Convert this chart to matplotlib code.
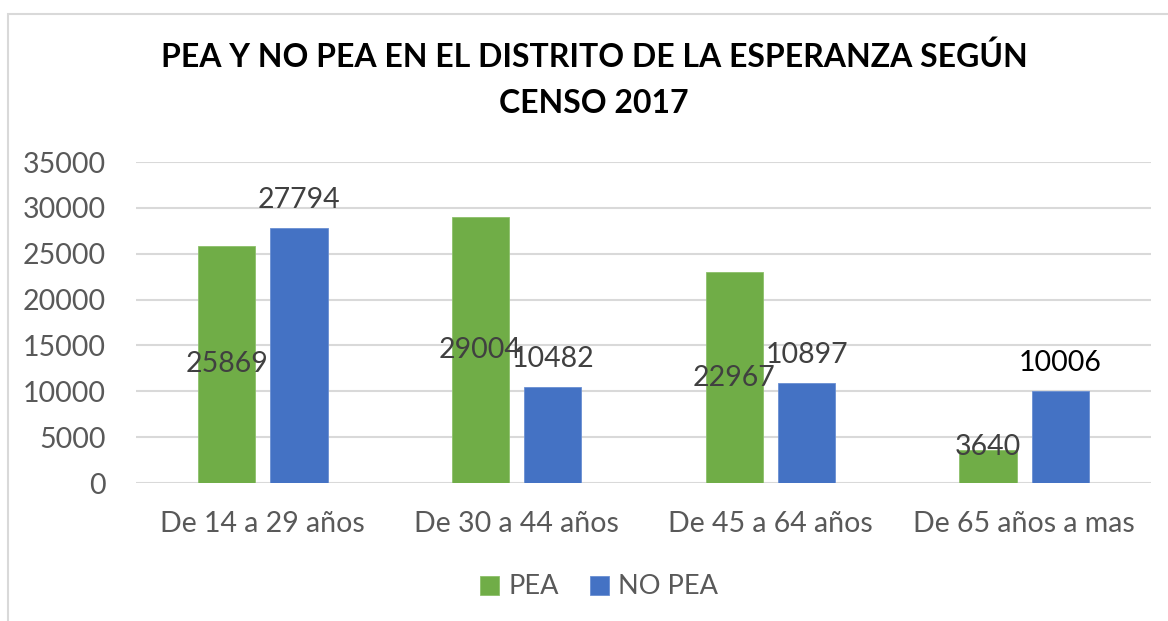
import matplotlib
matplotlib.use("Agg")
import matplotlib.pyplot as plt
from matplotlib.patches import Rectangle
import numpy as np

categories = ["De 14 a 29 años", "De 30 a 44 años", "De 45 a 64 años", "De 65 años a mas"]
pea = [25869, 29004, 22967, 3640]
no_pea = [27794, 10482, 10897, 10006]
series_names = ["PEA", "NO PEA"]
yticks = [0, 5000, 10000, 15000, 20000, 25000, 30000, 35000]
title = "PEA Y NO PEA EN EL DISTRITO DE LA ESPERANZA SEGÚN\nCENSO 2017"

GREEN = "#70AD47"
BLUE = "#4472C4"
GRID = "#D9D9D9"
TXT = "#595959"
LBL = "#404040"
FONT = "Lato"
FS = 20.5

W, H = 1168, 621
fig = plt.figure(figsize=(W / 100, H / 100), dpi=100)
fig.patch.set_facecolor("white")

# chart frame
fig.patches.append(Rectangle((8 / W, -0.1), 1.2, 1 - 14 / H + 0.1, transform=fig.transFigure,
                             fill=False, edgecolor=GRID, linewidth=1.5))

ax = fig.add_axes([136 / W, 1 - 483 / H, (1151 - 136) / W, (483 - 162) / H])
x = np.arange(len(categories))
bw = 0.225
off = 0.1425
b1 = ax.bar(x - off, pea, bw, color=GREEN, edgecolor="#8CC06A", linewidth=0.6, label=series_names[0], zorder=3)
b2 = ax.bar(x + off, no_pea, bw, color=BLUE, edgecolor="#6A8FD2", linewidth=0.6, label=series_names[1], zorder=3)

ax.set_xlim(-0.5, len(categories) - 0.5)
ax.set_ylim(0, 35000)
ax.set_yticks(yticks)
ax.set_yticklabels([str(t) for t in yticks])
ax.set_xticks(x)
ax.set_xticklabels(categories)
for s in ax.spines.values():
    s.set_visible(False)
ax.grid(axis="y", color=GRID, linewidth=1.5, zorder=0)
ax.set_axisbelow(True)
ax.tick_params(axis="both", length=0, labelsize=FS, labelcolor=TXT)
ax.tick_params(axis="y", pad=22)
ax.tick_params(axis="x", pad=20)
for lab in ax.get_xticklabels() + ax.get_yticklabels():
    lab.set_fontfamily(FONT)

# PEA labels: centered in bar (kept above the axis for short bars)
for xi, v in zip(x - off, pea):
    ypos = max(v / 2, 3900)
    ax.text(xi, ypos, str(v), ha="center", va="center", fontsize=FS, color=LBL,
            fontfamily=FONT, zorder=4)
# NO PEA labels: outside end
for i, (xi, v) in enumerate(zip(x + off, no_pea)):
    c = "black" if i == len(no_pea) - 1 else LBL
    ax.annotate(str(v), (xi, v), xytext=(0, 11), textcoords="offset points", ha="center",
                va="bottom", fontsize=FS, color=c, fontfamily=FONT, zorder=4)

fig.text(594 / W, 1 - 80 / H, title, ha="center", va="center", fontsize=23,
         fontweight="bold", fontfamily=FONT, color="black", linespacing=1.7)

leg = fig.legend(handles=[b1, b2], labels=series_names, loc="center",
                 bbox_to_anchor=(599 / W, 1 - 587 / H), ncol=2, frameon=False,
                 prop={"family": FONT, "size": 19.5}, handlelength=0.7, handleheight=0.7,
                 handletextpad=0.35, columnspacing=1.15, labelcolor=TXT)

fig.savefig("out.png", dpi=100, facecolor="white")
